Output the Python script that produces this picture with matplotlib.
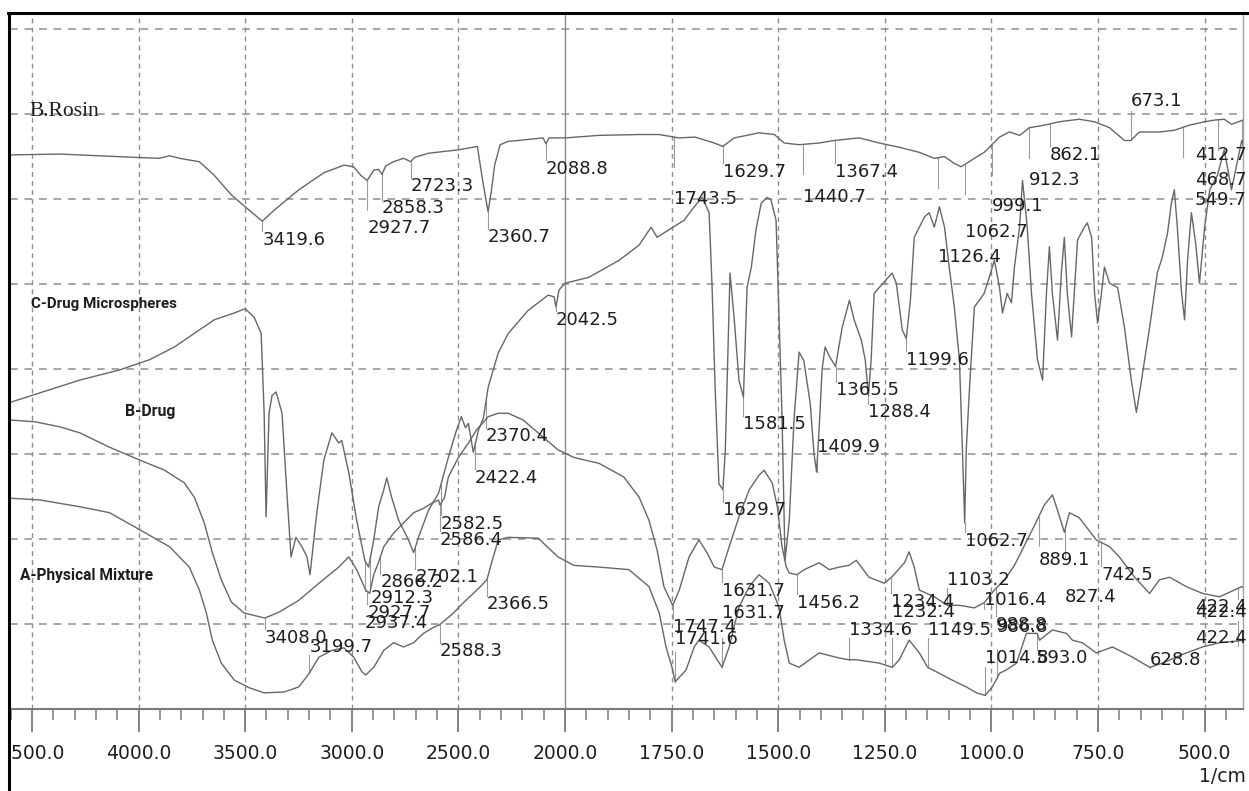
import numpy as np
import matplotlib.pyplot as plt
from matplotlib.lines import Line2D
from matplotlib.transforms import Bbox, TransformedBbox, blended_transform_factory

# spectra as (wavenumber 1/cm, transmittance) pairs
rosin = [
    (4600, 65.2), (4369, 65.3), (4005, 64.9), (3902, 64.8), (3855, 65.1), (3808, 64.8),
    (3762, 64.6), (3715, 64.4), (3645, 62.8), (3565, 60.5), (3505, 59.2), (3419.6, 57.4),
    (3364, 58.7), (3248, 61.1), (3131, 63.1), (3037, 64.0), (2991, 63.8), (2958, 62.8),
    (2927.7, 62.2), (2897, 63.4), (2874, 63.5), (2858.3, 62.9), (2841, 63.9), (2804, 64.4),
    (2757, 64.8), (2723.3, 64.4), (2706, 64.9), (2640, 65.4), (2500, 65.8), (2411, 66.2),
    (2385, 62.0), (2360.7, 58.5), (2345, 61.0), (2330, 64.0), (2304, 66.4), (2266, 66.8),
    (2220, 66.9), (2103, 67.2), (2088.8, 66.5), (2075, 67.2), (2000, 67.2), (1920, 67.5),
    (1826, 67.6), (1779, 67.6), (1732, 67.2), (1695, 67.3), (1650, 66.6), (1629.7, 66.2),
    (1603, 67.2), (1545, 67.8), (1509, 67.6), (1486, 66.6), (1451, 66.4), (1404, 66.6),
    (1369, 66.9), (1310, 67.2), (1263, 66.6), (1216, 66.1), (1169, 65.5), (1134, 64.8),
    (1110, 65.0), (1087, 64.2), (1071, 63.8), (1040, 64.8), (1017, 65.5), (981, 67.3),
    (958, 67.9), (934, 67.5), (911, 68.4), (876, 68.7), (841, 69.1), (794, 69.4),
    (758, 69.1), (723, 68.4), (688, 66.9), (673.1, 66.9), (653, 67.9), (606, 67.9),
    (571, 68.1), (536, 68.7), (500, 69.1), (477, 69.3), (454, 69.4), (437, 68.8), (410, 69.3),
]

micro = [
    (4600, 36.1), (4463, 37.2), (4276, 38.7), (4089, 39.9), (3949, 41.1), (3832, 42.6),
    (3715, 44.6), (3645, 45.8), (3551, 46.6), (3500, 47.1), (3458, 46.1), (3425, 44.2),
    (3411, 34.8), (3402, 22.6), (3388, 34.8), (3374, 36.9), (3355, 37.3), (3327, 34.8),
    (3308, 26.9), (3285, 17.9), (3262, 20.2), (3234, 19.1), (3210, 17.9), (3196, 15.8),
    (3164, 23.1), (3131, 29.3), (3093, 32.5), (3061, 31.3), (3047, 31.6), (3014, 27.8),
    (2977, 22.2), (2939, 17.5), (2921, 16.7), (2897, 19.9), (2874, 23.8), (2850, 25.8),
    (2836, 27.2), (2813, 24.9), (2780, 22.2), (2734, 19.9), (2710, 18.4), (2687, 20.2),
    (2640, 23.4), (2593, 25.4), (2547, 29.6), (2509, 32.8), (2486, 34.4), (2467, 33.1),
    (2453, 33.6), (2430, 30.2), (2406, 32.8), (2383, 34.2), (2360, 37.9), (2313, 41.9),
    (2266, 44.2), (2173, 46.9), (2079, 48.7), (2051, 48.5), (2042.5, 47.3), (2028, 49.3),
    (2000, 50.1), (1944, 50.8), (1873, 52.8), (1826, 54.6), (1798, 56.7), (1784, 55.5),
    (1756, 56.4), (1721, 57.5), (1697, 59.1), (1678, 60.2), (1662, 58.4), (1655, 49.6),
    (1648, 37.9), (1639, 26.5), (1629.7, 25.8), (1624, 30.5), (1620, 37.9), (1613, 51.3),
    (1603, 45.8), (1592, 38.7), (1581.5, 36.7), (1573, 49.6), (1563, 52.0), (1552, 56.4),
    (1540, 59.5), (1526, 60.2), (1517, 59.9), (1505, 57.5), (1498, 45.8), (1491, 34.4),
    (1484, 17.5), (1474, 22.2), (1463, 34.0), (1451, 42.0), (1440, 41.0), (1425, 36.0),
    (1416, 30.0), (1409.9, 27.9), (1404, 33.0), (1397, 40.0), (1390, 42.6), (1380, 41.5),
    (1365.5, 40.3), (1350, 44.9), (1333, 48.1), (1322, 45.8), (1305, 43.4), (1296, 41.1),
    (1288.4, 36.9), (1282, 41.1), (1275, 48.9), (1263, 49.6), (1233, 51.3), (1223, 50.1),
    (1209, 44.6), (1199.6, 43.6), (1190, 48.1), (1181, 55.5), (1157, 57.9), (1146, 58.4),
    (1134, 56.7), (1122, 59.1), (1110, 56.7), (1099, 52.0), (1087, 47.3), (1075, 41.1),
    (1068, 30.5), (1062.7, 21.9), (1059, 30.5), (1052, 37.2), (1040, 47.3), (1017, 48.9),
    (1005, 50.8), (993, 52.8), (981, 49.6), (974, 46.6), (963, 48.9), (953, 47.8),
    (946, 52.0), (934, 56.7), (927, 62.2), (916, 56.7), (906, 48.9), (892, 41.1),
    (880, 38.7), (871, 48.9), (864, 54.4), (857, 48.9), (845, 43.4), (836, 51.3),
    (829, 55.5), (822, 48.9), (812, 43.8), (798, 55.2), (782, 56.7), (775, 57.2),
    (765, 55.5), (758, 48.9), (751, 45.4), (742, 48.9), (735, 52.0), (723, 50.1),
    (704, 49.6), (688, 44.9), (672, 38.7), (660, 34.9), (648, 38.7), (629, 44.9),
    (611, 51.3), (599, 53.2), (587, 56.0), (578, 59.5), (571, 61.1), (564, 56.7),
    (554, 48.9), (547, 45.8), (540, 52.8), (531, 58.4), (521, 54.8), (512, 50.1),
    (500, 56.7), (488, 61.1), (470, 62.8), (454, 65.8), (437, 61.1), (413, 66.9), (410, 66.5),
]

drug = [
    (4600, 34.0), (4486, 33.8), (4369, 33.2), (4276, 32.5), (4136, 30.8), (3995, 29.3),
    (3878, 28.1), (3785, 26.6), (3738, 24.9), (3692, 21.9), (3654, 18.4), (3612, 15.2),
    (3565, 12.6), (3505, 11.3), (3408.0, 10.7), (3341, 11.4), (3248, 12.8), (3154, 14.8),
    (3061, 16.7), (3014, 17.9), (2977, 16.4), (2935, 14.0), (2916, 13.6), (2897, 15.8),
    (2874, 17.3), (2850, 19.1), (2804, 20.7), (2757, 21.9), (2710, 23.1), (2664, 23.6),
    (2626, 24.2), (2593, 24.6), (2586.4, 24.0), (2565, 24.9), (2547, 27.3), (2500, 29.6),
    (2453, 31.3), (2416, 32.8), (2360, 34.4), (2313, 34.8), (2266, 34.8), (2196, 34.0),
    (2126, 32.5), (2033, 30.5), (1979, 29.6), (1920, 28.9), (1862, 27.3), (1826, 24.9),
    (1803, 22.2), (1784, 18.7), (1768, 14.4), (1747.4, 12.2), (1732, 14.0), (1709, 17.9),
    (1686, 19.9), (1667, 18.4), (1650, 16.7), (1631.7, 16.4), (1615, 19.1), (1592, 22.6),
    (1568, 25.8), (1545, 27.5), (1533, 28.1), (1514, 26.6), (1502, 23.8), (1491, 19.1),
    (1481, 16.7), (1474, 16.0), (1456.2, 15.8), (1439, 16.4), (1404, 17.2), (1380, 16.4),
    (1357, 16.7), (1334, 16.9), (1317, 17.5), (1287, 15.5), (1251, 14.8), (1234.4, 15.5),
    (1204, 17.2), (1193, 18.5), (1181, 16.7), (1169, 14.0), (1134, 13.2), (1103.2, 12.2),
    (1075, 12.2), (1040, 11.9), (1017, 12.5), (993, 14.0), (969, 15.2), (946, 16.9),
    (922, 19.3), (899, 21.6), (876, 24.0), (857, 25.2), (845, 23.4), (829, 20.8),
    (817, 23.1), (794, 22.5), (777, 21.4), (754, 19.9), (723, 19.1), (700, 17.9),
    (664, 15.5), (629, 13.6), (606, 15.2), (582, 15.5), (543, 14.4), (505, 13.6),
    (465, 13.2), (413, 14.4), (410, 14.3),
]

mixture = [
    (4600, 24.8), (4463, 24.6), (4276, 23.8), (4136, 23.1), (3995, 21.1), (3855, 19.1),
    (3762, 16.7), (3715, 14.0), (3682, 11.3), (3654, 8.1), (3612, 5.4), (3551, 3.4),
    (3481, 2.5), (3411, 1.9), (3318, 2.0), (3248, 2.6), (3199.7, 4.2), (3154, 6.1),
    (3093, 6.9), (3037, 7.2), (2991, 6.1), (2953, 4.4), (2935, 4.0), (2897, 4.9),
    (2850, 6.9), (2804, 7.8), (2757, 7.3), (2710, 7.8), (2664, 8.9), (2617, 9.6),
    (2588.3, 9.9), (2523, 11.3), (2477, 12.5), (2430, 13.6), (2397, 14.4), (2366.5, 15.2),
    (2341, 17.5), (2313, 19.9), (2266, 20.2), (2126, 20.1), (2033, 17.9), (1979, 16.9),
    (1920, 16.7), (1850, 16.4), (1803, 14.4), (1779, 11.3), (1763, 7.3), (1749, 4.9),
    (1741.6, 3.2), (1716, 4.6), (1697, 7.3), (1686, 8.1), (1662, 7.3), (1643, 5.8),
    (1631.7, 4.9), (1615, 7.3), (1592, 12.0), (1568, 14.4), (1545, 15.8), (1521, 14.8),
    (1498, 12.0), (1486, 8.1), (1474, 5.4), (1451, 4.9), (1404, 6.6), (1357, 6.0),
    (1334.6, 5.8), (1317, 5.8), (1263, 5.4), (1232.4, 4.9), (1216, 5.8), (1193, 8.1),
    (1169, 6.6), (1149.5, 4.9), (1122, 4.2), (1092, 3.4), (1059, 2.6), (1035, 1.9),
    (1014.5, 1.6), (998, 2.6), (986.8, 3.6), (981, 4.2), (965, 4.6), (941, 5.4),
    (918, 8.9), (893.0, 8.9), (887, 8.1), (857, 9.3), (824, 8.9), (810, 8.1),
    (787, 7.8), (754, 6.6), (716, 7.3), (669, 6.1), (628.8, 4.9), (599, 5.4),
    (543, 6.6), (505, 7.3), (465, 7.8), (422.4, 8.0), (410, 8.1),
]

# peak labels: wavenumber and the height the number is printed at
rosin_peaks = [3419.6, 2927.7, 2858.3, 2723.3, 2360.7, 2088.8, 1743.5, 1629.7, 1440.7,
               1367.4, 1126.4, 1062.7, 999.1, 912.3, 862.1, 673.1, 549.7, 468.7, 412.7]
rosin_label_t = [55.2, 56.6, 58.9, 61.5, 55.5, 63.6, 60.0, 63.2, 60.2,
                 63.2, 53.2, 56.1, 59.2, 62.2, 65.2, 71.6, 59.9, 62.2, 65.2]

micro_peaks = [2937.4, 2912.3, 2702.1, 2582.5, 2422.4, 2370.4, 2042.5, 1629.7, 1581.5,
               1409.9, 1365.5, 1288.4, 1199.6, 1062.7]
micro_label_t = [10.1, 13.1, 15.5, 21.8, 27.2, 32.1, 45.8, 23.4, 33.5,
                 30.8, 37.5, 34.9, 41.1, 19.8]

drug_peaks = [3408.0, 2927.7, 2866.2, 2586.4, 1747.4, 1631.7, 1456.2, 1234.4, 1103.2,
              1016.4, 988.8, 889.1, 827.4, 742.5, 422.4]
drug_label_t = [8.4, 11.3, 14.9, 19.9, 9.6, 13.9, 12.5, 12.6, 15.2,
                12.8, 9.9, 17.5, 13.2, 15.8, 12.0]

mixture_peaks = [3199.7, 2588.3, 2366.5, 1741.6, 1631.7, 1334.6, 1232.4, 1149.5, 1014.5,
                 986.8, 893.0, 628.8, 422.4, 422.4]
mixture_label_t = [7.3, 6.8, 12.3, 8.2, 11.3, 9.3, 11.4, 9.3, 6.0,
                   9.7, 6.0, 5.8, 11.4, 8.4]

major_ticks = [4500, 4000, 3500, 3000, 2500, 2000, 1750, 1500, 1250, 1000, 750, 500]
minor_ticks = ([w for w in range(4600, 2000, -100) if w not in major_ticks] +
               [w for w in range(1950, 400, -50) if w not in major_ticks])

trace_color = '#676767'
peak_color = '#9a9a9a'
grid_color = '#8e8e8e'
text_color = '#1e1e1e'


# Shimadzu-style axis: 2000-400 region is stretched twice as wide
def fwd(w):
    w = np.asarray(w, dtype=float)
    return np.where(w > 2000, 2000 + (w - 2000) / 2, w)


def inv(u):
    u = np.asarray(u, dtype=float)
    return np.where(u > 2000, 2000 + (u - 2000) * 2, u)


W, H = 1249, 791
fig = plt.figure(figsize=(W / 100, H / 100), dpi=100)
ax = fig.add_axes([10 / W, 82 / H, 1233 / W, 696 / H])
ax.set_xscale('function', functions=(fwd, inv))
ax.set_xlim(4603, 410)
ax.set_ylim(0, 81.9)

for t in major_ticks:
    if t == 2000:
        ax.axvline(t, color='#8a8a8a', lw=1.0, zorder=1)
    else:
        ax.axvline(t, color=grid_color, lw=1.0, ls=(0, (3.5, 3)), zorder=1)
for v in range(10, 90, 10):
    ax.axhline(v, color=grid_color, lw=1.1, ls=(0, (5, 4.5)), zorder=1)

edge = blended_transform_factory(ax.transAxes, ax.transData)


def draw_spectrum(pairs, peaks, label_t):
    wn, t = map(np.array, zip(*pairs))
    ax.plot(wn, t, color=trace_color, lw=1.0, zorder=3)
    order = np.argsort(wn)
    xs, ys = wn[order], t[order]
    for p, lt in zip(peaks, label_t):
        tv = np.interp(p, xs, ys)
        if lt < tv:
            end = max(lt + 1.0, tv - 3.5)
        else:
            end = min(lt - 1.0, tv + 3.5)
        ax.plot([p, p], [tv, end], color=peak_color, lw=0.8, zorder=2)
        if p < 600:
            ax.text(1.003, lt, f'{p:.1f}', transform=edge, ha='right', va='center',
                    fontsize=13, color=text_color, zorder=4, clip_on=False)
        else:
            ax.text(p, lt, f'{p:.1f}', ha='left', va='center',
                    fontsize=13, color=text_color, zorder=4)


draw_spectrum(rosin, rosin_peaks, rosin_label_t)
draw_spectrum(micro, micro_peaks, micro_label_t)
draw_spectrum(drug, drug_peaks, drug_label_t)
draw_spectrum(mixture, mixture_peaks, mixture_label_t)

# sample names
ax.text(0.016, 0.858, 'B.Rosin', transform=ax.transAxes, ha='left', va='center',
        family=['Liberation Serif', 'DejaVu Serif'], fontsize=15.5, color=text_color)

names = [
    ('C-Drug Microspheres', 0.017, 0.582, 145),
    ('B-Drug', 0.093, 0.427, 50),
    ('A-Physical Mixture', 0.008, 0.1925, 133),
]
name_texts = []
for label, x, y, width_px in names:
    txt = ax.text(x, y, label, transform=ax.transAxes, ha='left', va='center',
                  family=['Roboto', 'Liberation Sans', 'DejaVu Sans'], weight='bold',
                  fontsize=12, color=text_color)
    name_texts.append((txt, width_px))

ax.set_xticks(major_ticks)
ax.set_xticklabels([f'{t:.1f}' for t in major_ticks])
ax.set_xticks(minor_ticks, minor=True)
ax.set_yticks([])
ax.tick_params(axis='x', which='major', direction='out', length=16.5, width=1.3,
               color='#7a7a7a', labelcolor=text_color, labelsize=13.5, pad=9)
ax.tick_params(axis='x', which='minor', direction='out', length=8, width=1.1, color='#7a7a7a')

# the leftmost label runs under the frame
first = ax.xaxis.get_major_ticks()[0].label1
first.set_clip_box(TransformedBbox(Bbox([[10 / W, 0], [1, 1]]), fig.transFigure))
first.set_clip_on(True)

for side in ('left', 'top'):
    ax.spines[side].set_visible(False)
ax.spines['right'].set_color('#a0a0a0')
ax.spines['right'].set_linewidth(1.0)
ax.spines['bottom'].set_color('#7a7a7a')
ax.spines['bottom'].set_linewidth(1.5)

top = (H - 13) / H
fig.add_artist(Line2D([9 / W, 9 / W], [0, top], color='black', lw=2.2, transform=fig.transFigure))
fig.add_artist(Line2D([8 / W, 1], [top, top], color='black', lw=2.2, transform=fig.transFigure))

fig.text(1246 / W, 1 - 776 / H, '1/cm', ha='right', va='center', fontsize=13.5, color=text_color)

# fit the sample names to their printed width
fig.canvas.draw()
renderer = fig.canvas.get_renderer()
for txt, width_px in name_texts:
    w = txt.get_window_extent(renderer).width
    txt.set_fontsize(txt.get_fontsize() * width_px / w)

fig.savefig('out.png', dpi=100)
